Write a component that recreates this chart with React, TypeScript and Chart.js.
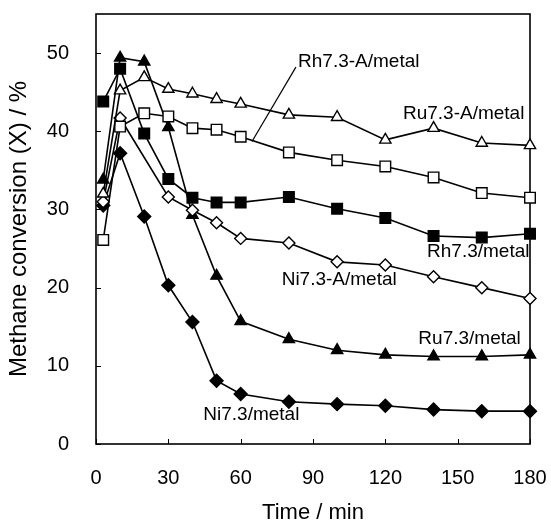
import React, { useEffect, useRef } from "react";
import { Chart, registerables } from "chart.js";

Chart.register(...registerables);

// ---- data ----
const times = [3, 10, 20, 30, 40, 50, 60, 80, 100, 120, 140, 160, 180];
const ru73A = [32.0, 45.2, 46.9, 45.4, 44.8, 44.1, 43.5, 42.1, 41.8, 38.9, 40.4, 38.5, 38.2];
const rh73A = [26.1, 40.6, 42.3, 41.9, 40.4, 40.2, 39.3, 37.3, 36.3, 35.5, 34.1, 32.1, 31.5];
const rh73 = [43.8, 48.0, 39.7, 33.9, 31.5, 30.9, 30.9, 31.6, 30.1, 28.9, 26.6, 26.4, 26.9];
const ni73A = [31.0, 41.7, null, 31.6, 29.9, 28.3, 26.3, 25.7, 23.3, 22.9, 21.4, 20.0, 18.6];
const ru73 = [33.8, 49.4, 48.9, 40.5, 29.3, 21.5, 15.7, 13.4, 12.0, 11.4, 11.2, 11.2, 11.4];
const ni73 = [30.5, 37.2, 29.1, 20.3, 15.6, 8.1, 6.4, 5.4, 5.1, 4.9, 4.4, 4.2, 4.2];

const xTickValues = [0, 30, 60, 90, 120, 150, 180];
const yTickValues = [0, 10, 20, 30, 40, 50];

// annotation labels (data coordinates of left edge / vertical centre)
const noteTexts = ["Rh7.3-A/metal", "Ru7.3-A/metal", "Rh7.3/metal", "Ni7.3-A/metal", "Ru7.3/metal", "Ni7.3/metal"];
const noteX = [83.8, 127.3, 137.3, 77.0, 133.7, 44.5];
const noteY = [48.85, 42.3, 24.55, 21.0, 13.4, 3.7];
// leader line for Rh7.3-A/metal
const leaderX = [82.9, 64.7];
const leaderY = [48.2, 38.7];

const FONT = '"Liberation Sans", Arial, Helvetica, sans-serif';

function toPoints(vals: (number | null)[]) {
  return times.map((t, i) => ({ x: t, y: vals[i] }));
}

const framePlugin = {
  id: "frameAndNotes",
  beforeDatasetsDraw(chart: any) {
    const { ctx, chartArea: a, scales } = chart;
    const x = scales.x;
    const y = scales.y;
    ctx.save();
    ctx.strokeStyle = "#000";
    ctx.lineWidth = 1.6;
    ctx.strokeRect(a.left, a.top, a.right - a.left, a.bottom - a.top);
    ctx.lineWidth = 1;
    ctx.beginPath();
    for (const v of xTickValues) {
      const px = Math.round(x.getPixelForValue(v)) + 0.5;
      ctx.moveTo(px, a.bottom);
      ctx.lineTo(px, a.bottom - 5);
    }
    for (const v of yTickValues) {
      const py = Math.round(y.getPixelForValue(v)) + 0.5;
      ctx.moveTo(a.left, py);
      ctx.lineTo(a.left + 5, py);
    }
    ctx.stroke();
    ctx.restore();
  },
  afterDatasetsDraw(chart: any) {
    const { ctx, scales } = chart;
    const x = scales.x;
    const y = scales.y;
    ctx.save();
    ctx.fillStyle = "#000";
    ctx.font = "19px " + FONT;
    ctx.textAlign = "left";
    ctx.textBaseline = "middle";
    noteTexts.forEach((t, i) => {
      ctx.fillText(t, x.getPixelForValue(noteX[i]), y.getPixelForValue(noteY[i]));
    });
    ctx.strokeStyle = "#000";
    ctx.lineWidth = 1.2;
    ctx.beginPath();
    ctx.moveTo(x.getPixelForValue(leaderX[0]), y.getPixelForValue(leaderY[0]));
    ctx.lineTo(x.getPixelForValue(leaderX[1]), y.getPixelForValue(leaderY[1]));
    ctx.stroke();
    ctx.restore();
  },
};

function ds(label: string, vals: (number | null)[], style: string, filled: boolean, radius: number) {
  return {
    label,
    data: toPoints(vals),
    borderColor: "#000",
    borderWidth: 1.6,
    pointStyle: style,
    pointRadius: radius,
    pointBackgroundColor: filled ? "#000" : "#fff",
    pointBorderColor: "#000",
    pointBorderWidth: 1.4,
    spanGaps: true,
    tension: 0,
    clip: false as any,
  };
}

function zeroPad(scale: any) {
  scale.paddingTop = 0;
  scale.paddingBottom = 0;
  scale.paddingLeft = 0;
  scale.paddingRight = 0;
}

export default function App() {
  const ref = useRef<HTMLCanvasElement | null>(null);

  useEffect(() => {
    document.body.style.margin = "0";
    if (!ref.current) return;
    Chart.defaults.font.family = FONT;
    Chart.defaults.color = "#000";
    const chart = new Chart(ref.current, {
      type: "line",
      data: {
        datasets: [
          ds("Ru7.3-A/metal", ru73A, "triangle", false, 6.5),
          ds("Rh7.3-A/metal", rh73A, "rect", false, 7.5),
          ds("Rh7.3/metal", rh73, "rect", true, 7.5),
          ds("Ni7.3-A/metal", ni73A, "rectRot", false, 6),
          ds("Ru7.3/metal", ru73, "triangle", true, 6.5),
          ds("Ni7.3/metal", ni73, "rectRot", true, 6.5),
        ] as any,
      },
      options: {
        animation: false,
        responsive: false,
        maintainAspectRatio: false,
        layout: { padding: { top: 14, right: 21, bottom: 0, left: 0 } },
        plugins: { legend: { display: false }, tooltip: { enabled: false } },
        scales: {
          x: {
            type: "linear",
            min: 0,
            max: 180,
            grid: { display: false },
            border: { display: false },
            ticks: { stepSize: 30, padding: 14, font: { size: 20 }, color: "#000", maxRotation: 0 },
            title: { display: true, text: "Time / min", font: { size: 22 }, color: "#000", padding: { top: 0, bottom: 3 } },
            afterFit(scale: any) {
              scale.height = 85;
              zeroPad(scale);
            },
          },
          y: {
            type: "linear",
            min: 0,
            max: 55,
            grid: { display: false },
            border: { display: false },
            ticks: { stepSize: 10, includeBounds: false, padding: 19, font: { size: 20 }, color: "#000" },
            title: { display: true, text: "Methane conversion (X) / %", font: { size: 24 }, color: "#000", padding: { top: 5, bottom: 0 } },
            afterFit(scale: any) {
              scale.width = 96;
              zeroPad(scale);
            },
          },
        },
      },
      plugins: [framePlugin],
    });
    return () => chart.destroy();
  }, []);

  return (
    <div style={{ width: 551, height: 529 }}>
      <canvas ref={ref} width={551} height={529} style={{ display: "block" }} />
    </div>
  );
}
